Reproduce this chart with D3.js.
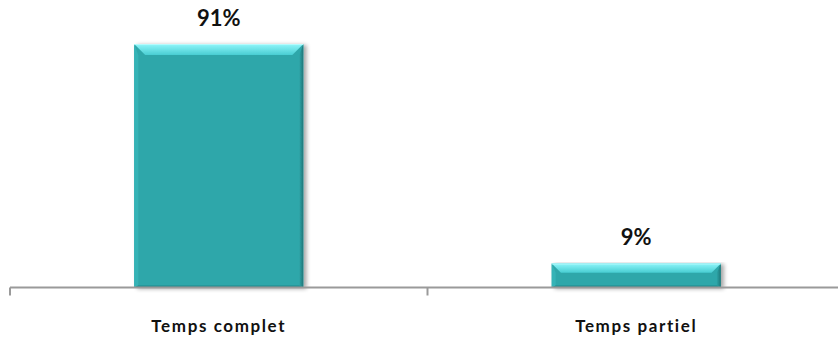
<!DOCTYPE html>
<html>
<head>
<meta charset="utf-8">
<script src="https://cdn.jsdelivr.net/npm/d3@7"></script>
<style>
  body { margin: 0; background: #fff; }
  svg { display: block; font-family: Lato, "Open Sans", sans-serif; }
</style>
</head>
<body>
<div id="chart"></div>
<script>
// data
const categories = ["Temps complet", "Temps partiel"];
const values = [91, 9];
const valueLabels = ["91%", "9%"];

const width = 838, height = 337;

const svg = d3.select("#chart").append("svg")
    .attr("width", width)
    .attr("height", height);

// axis runs a bit past the right edge, like the original
const x = d3.scaleBand().domain(categories).range([10, 845]).padding(0);
const y = d3.scaleLinear().domain([0, 100]).range([287.5, 20]);
const barW = x.bandwidth() * 0.405;

const defs = svg.append("defs");

const shadow = defs.append("filter").attr("id", "shadow")
    .attr("x", "-10%").attr("y", "-10%").attr("width", "130%").attr("height", "130%");
shadow.append("feGaussianBlur").attr("in", "SourceAlpha").attr("stdDeviation", 2);
shadow.append("feOffset").attr("dx", 3).attr("dy", 1).attr("result", "off");
shadow.append("feComponentTransfer").append("feFuncA").attr("type", "linear").attr("slope", 0.35);
const merge = shadow.append("feMerge");
merge.append("feMergeNode");
merge.append("feMergeNode").attr("in", "SourceGraphic");

const topGrad = defs.append("linearGradient").attr("id", "topGrad")
    .attr("x1", 0).attr("y1", 0).attr("x2", 0).attr("y2", 1);
topGrad.append("stop").attr("offset", "0%").attr("stop-color", "#8FF6FA");
topGrad.append("stop").attr("offset", "100%").attr("stop-color", "#48CDD2");

const rightGrad = defs.append("linearGradient").attr("id", "rightGrad")
    .attr("x1", 0).attr("y1", 0).attr("x2", 1).attr("y2", 0);
rightGrad.append("stop").attr("offset", "0%").attr("stop-color", "#2EA3A6");
rightGrad.append("stop").attr("offset", "100%").attr("stop-color", "#1D7779");

// bars with a bevel look
const bars = svg.selectAll(".bar")
    .data(categories.map((c, i) => ({ cat: c, value: values[i], label: valueLabels[i] })))
    .enter()
    .append("g")
    .attr("class", "bar")
    .attr("filter", "url(#shadow)");

bars.each(function (d) {
    const g = d3.select(this);
    const x0 = x(d.cat) + (x.bandwidth() - barW) / 2;
    const x1 = x0 + barW;
    const y0 = y(d.value);
    const y1 = y(0);
    const b = Math.min(11, (y1 - y0) / 2.6);
    const bs = 4; // side bevel

    g.append("rect")
        .attr("x", x0).attr("y", y0)
        .attr("width", barW).attr("height", y1 - y0)
        .attr("fill", "#2FA7AA");

    // left side
    g.append("polygon")
        .attr("points", [[x0, y0], [x0 + bs, y0 + b], [x0 + bs, y1 - 2], [x0, y1]].join(" "))
        .attr("fill", "#36B3B6");
    // right side
    g.append("polygon")
        .attr("points", [[x1, y0], [x1 - bs, y0 + b], [x1 - bs, y1 - 2], [x1, y1]].join(" "))
        .attr("fill", "url(#rightGrad)");
    // bottom
    g.append("polygon")
        .attr("points", [[x0, y1], [x0 + bs, y1 - 2], [x1 - bs, y1 - 2], [x1, y1]].join(" "))
        .attr("fill", "#23898C");
    // top
    g.append("polygon")
        .attr("points", [[x0, y0], [x1, y0], [x1 - b, y0 + b], [x0 + b, y0 + b]].join(" "))
        .attr("fill", "url(#topGrad)");
    g.append("line")
        .attr("x1", x0).attr("x2", x1)
        .attr("y1", y0 + 0.5).attr("y2", y0 + 0.5)
        .attr("stroke", "#B8FBFD").attr("stroke-width", 1);
});

// value labels
svg.selectAll(".val")
    .data(categories)
    .enter()
    .append("text")
    .attr("class", "val")
    .attr("x", c => x(c) + x.bandwidth() / 2)
    .attr("y", (c, i) => y(values[i]) - 18)
    .attr("text-anchor", "middle")
    .attr("font-size", 22)
    .attr("font-weight", "bold")
    .attr("fill", "#111")
    .text((c, i) => valueLabels[i]);

// x axis
const axis = svg.append("g")
    .attr("transform", `translate(0,${y(0)})`)
    .call(d3.axisBottom(x).tickSize(0).tickFormat(""));
axis.select(".domain").attr("stroke", "#9A9A9A").attr("stroke-width", 2)
    .attr("d", "M10,0H845");

const tickPos = [10].concat(categories.map(c => x(c) + x.bandwidth()));
svg.selectAll(".tk")
    .data(tickPos)
    .enter()
    .append("line")
    .attr("x1", d => d).attr("x2", d => d)
    .attr("y1", y(0)).attr("y2", y(0) + 8)
    .attr("stroke", "#9A9A9A").attr("stroke-width", 2);

svg.selectAll(".cat")
    .data(categories)
    .enter()
    .append("text")
    .attr("class", "cat")
    .attr("x", c => x(c) + x.bandwidth() / 2)
    .attr("y", 332)
    .attr("text-anchor", "middle")
    .attr("font-size", 17)
    .attr("font-weight", "bold")
    .attr("letter-spacing", 1.6)
    .attr("fill", "#111")
    .text(c => c);
</script>
</body>
</html>
